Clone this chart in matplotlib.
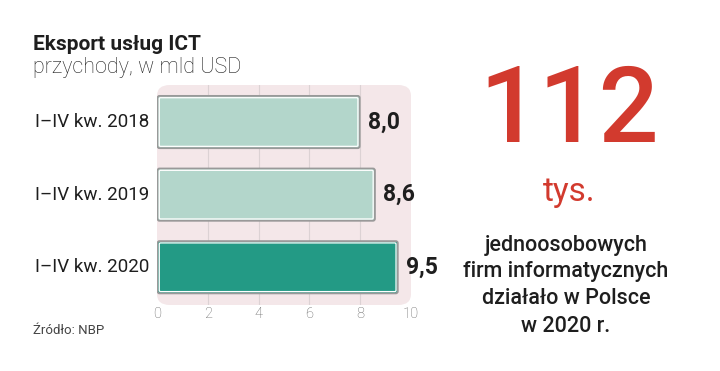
import matplotlib.pyplot as plt
from matplotlib.patches import FancyBboxPatch

categories = ["I–IV kw. 2018", "I–IV kw. 2019", "I–IV kw. 2020"]
values = [8.0, 8.6, 9.5]
value_labels = ["8,0", "8,6", "9,5"]
bar_colors = ["#b3d6cb", "#b3d6cb", "#239a85"]
ticks = [0, 2, 4, 6, 8, 10]

plt.rcParams['font.family'] = ['Roboto', 'DejaVu Sans']

fig = plt.figure(figsize=(7.2, 3.71), dpi=100)
fig.patch.set_facecolor("white")

ax = fig.add_axes([157 / 720, 1 - 305 / 371, 254 / 720, 220 / 371])
ax.set_xlim(0, 10)
ax.set_ylim(2.52, -0.51)
ax.axis("off")

# rounded pink background
bg = FancyBboxPatch((0.0, 0.0), 1.0, 1.0, boxstyle="round,pad=0,rounding_size=0.05",
                    transform=ax.transAxes, facecolor="#f4e7e9", edgecolor="none", zorder=0)
ax.add_patch(bg)
for t in ticks[1:-1]:
    ax.axvline(t, color="#dcd2d4", lw=0.8, zorder=1)

for i, (v, c) in enumerate(zip(values, bar_colors)):
    outer = FancyBboxPatch((0.02, i - 0.36), v - 0.04, 0.72,
                           boxstyle="round,pad=0,rounding_size=0.08",
                           mutation_aspect=0.35,
                           facecolor=c, edgecolor="#999999", lw=1.3, zorder=2)
    ax.add_patch(outer)
    inner = FancyBboxPatch((0.09, i - 0.335), v - 0.18, 0.67,
                           boxstyle="round,pad=0,rounding_size=0.05",
                           mutation_aspect=0.35,
                           facecolor="none", edgecolor="white", lw=0.9, zorder=3)
    ax.add_patch(inner)
    ax.text(v + 0.3, i, value_labels[i], ha="left", va="center", fontsize=16.5,
            fontweight="bold", color="#1e1e1e")
    ax.text(-0.3, i, categories[i], ha="right", va="center", fontsize=13.5,
            color="#1e1e1e")

for t in ticks:
    ax.text(t, 2.64, str(t), ha="center", va="center", fontsize=10.5,
            color="#666666", fontweight="light")

fig.text(33 / 720, 1 - 45 / 371, "Eksport usług ICT", fontsize=15, fontweight="bold",
         color="#1e1e1e", va="center", ha="left")
fig.text(33 / 720, 1 - 68 / 371, "przychody, w mld USD", fontsize=15.5, fontweight="light",
         color="#1e1e1e", va="center", ha="left")
fig.text(33 / 720, 1 - 330 / 371, "Źródło: NBP", fontsize=9.5, color="#444444",
         va="center", ha="left")

fig.text(569 / 720, 1 - 113 / 371, "112", fontsize=76, color="#d23a2e",
         va="center", ha="center", fontweight="medium")
fig.text(569 / 720, 1 - 192 / 371, "tys.", fontsize=24, color="#d23a2e",
         va="center", ha="center")
for k, line in enumerate(["jednoosobowych", "firm informatycznych",
                          "działało w Polsce", "w 2020 r."]):
    fig.text(566 / 720, 1 - (245 + 27 * k) / 371, line, fontsize=15.5, color="#1e1e1e",
             va="center", ha="center", fontweight="medium")

fig.savefig("out.png", dpi=100)
